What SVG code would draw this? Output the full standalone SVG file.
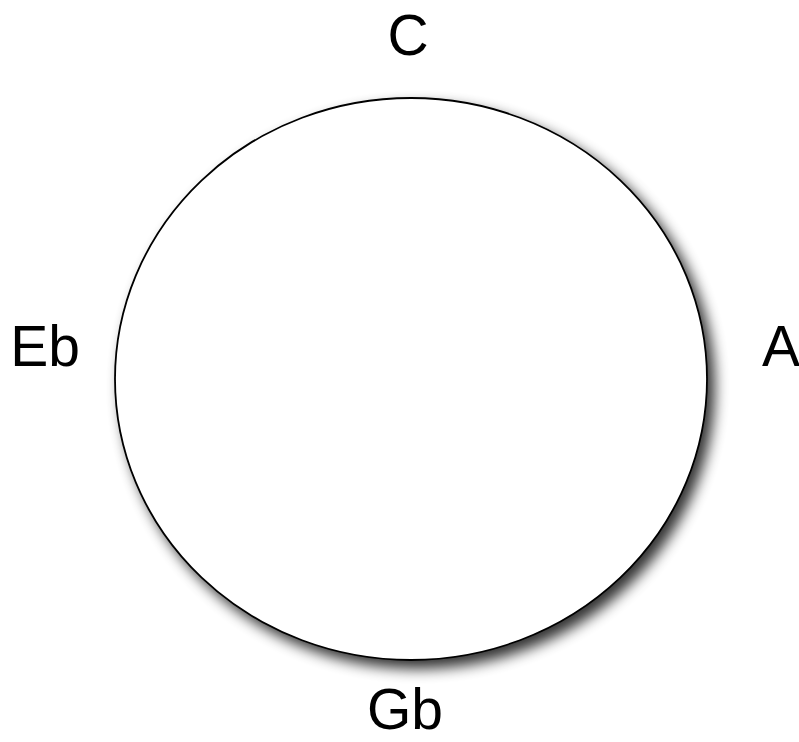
<svg xmlns="http://www.w3.org/2000/svg" width="799" height="742" viewBox="0 0 799 742">
<style>
.lbl{font-family:"Liberation Sans",Arial,sans-serif;font-size:57px;fill:#000;text-anchor:middle}
</style>
<defs>
<filter id="sh" x="-10%" y="-10%" width="125%" height="125%">
<feGaussianBlur in="SourceAlpha" stdDeviation="7"/>
<feOffset dx="7" dy="8" result="b"/>
<feComponentTransfer><feFuncA type="linear" slope="0.8"/></feComponentTransfer>
<feMerge><feMergeNode/><feMergeNode in="SourceGraphic"/></feMerge>
</filter>
</defs>
<rect width="799" height="742" fill="#fff"/>
<g id="circle">
<ellipse cx="411" cy="379" rx="296" ry="281" fill="#fff" stroke="#000" stroke-width="1.8" filter="url(#sh)"/>
</g>
<g id="label-C"><text class="lbl" x="408" y="55">C</text></g>
<g id="label-Eb"><text class="lbl" x="45" y="366">Eb</text></g>
<g id="label-A"><text class="lbl" x="781" y="366">A</text></g>
<g id="label-Gb"><text class="lbl" x="405" y="729">Gb</text></g>
</svg>
